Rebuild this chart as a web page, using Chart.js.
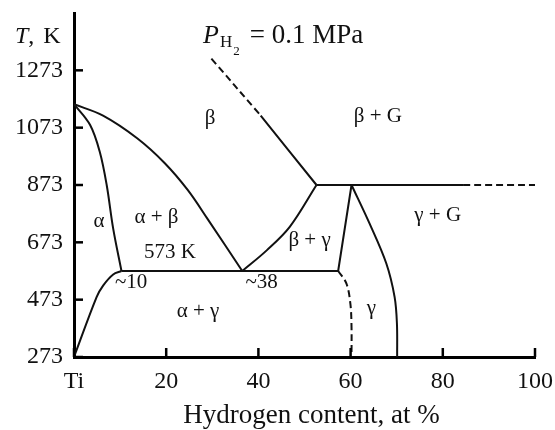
<!DOCTYPE html>
<html>
<head>
<meta charset="utf-8">
<script src="https://cdn.jsdelivr.net/npm/chart.js@4.4.1/dist/chart.umd.min.js"></script>
<style>
  body { margin: 0; background: #fff; }
</style>
</head>
<body>
<canvas id="grafico1" width="555" height="430"></canvas>
<script>
var serif = "'Liberation Serif', 'Times New Roman', serif";

// ejes
var xTicks = [0, 20, 40, 60, 80, 100];
var tTicks = [273, 473, 673, 873, 1073, 1273];
var xTitle = 'Hydrogen content, at %';

// curvas del diagrama (at % H, K)
var alphaX = [0, 3.5, 5.6, 7.1, 8.5, 10.3];
var alphaT = [1155, 1082, 988, 872, 721, 573];

var betaX = [0, 6.3, 13.7, 19.7, 24.7, 29.0, 36.5];
var betaT = [1155, 1115, 1036, 949, 855, 754, 573];

var betaGamX = [36.5, 41.8, 46.8, 52.6];
var betaGamT = [573, 645, 727, 873];

var betaGasX = [40.5, 52.6];
var betaGasT = [1115, 873];
var betaGasDashX = [29.8, 40.5];
var betaGasDashT = [1314, 1115];

var iso873X = [52.6, 84.4];
var iso873T = [873, 873];
var iso873DashX = [84.4, 100];
var iso873DashT = [873, 873];

var iso573X = [10.3, 57.3];
var iso573T = [573, 573];

var gamLeftX = [57.3, 60.2];
var gamLeftT = [573, 873];

var gamRightX = [60.2, 64.1, 67.75, 69.55, 70.05, 70.1];
var gamRightT = [873, 739, 599, 482, 390, 273];

var gamDashX = [57.3, 59.1, 59.95, 60.2, 60.2];
var gamDashT = [573, 529, 459, 378, 273];

var alphaGamX = [0, 4.9, 6.35, 8.5, 10.3];
var alphaGamT = [273, 482, 523, 561, 573];

// etiquetas de las fases
var labelText = ['\u03b2', '\u03b2 + G', '\u03b1', '\u03b1 + \u03b2', '573 K', '~10', '~38', '\u03b1 + \u03b3', '\u03b2 + \u03b3', '\u03b3 + G', '\u03b3'];
var labelX = [29.5, 65.9, 5.4, 17.9, 20.8, 12.4, 40.7, 26.9, 51.1, 78.9, 64.5];
var labelT = [1106, 1111, 744, 760, 636, 534, 534, 433, 680, 768, 442];

var linea = function(xs, ts, dash){
  return {
    data: xs.map(function(x, i){ return {x: x, y: ts[i]}; }),
    showLine: true,
    borderColor: '#111',
    borderWidth: 2,
    pointRadius: 0,
    tension: 0.35,
    borderDash: dash ? [7, 4] : [],
    fill: false
  };
};

var sinPadding = function(scale){
  scale.paddingTop = 0;
  scale.paddingBottom = 0;
  scale.paddingLeft = 0;
  scale.paddingRight = 0;
};

//--------------------------------------------------------------------------------------
// ticks hacia adentro, textos del diagrama
//--------------------------------------------------------------------------------------
var extras = {
  id: 'extras',
  afterDraw: function(chart){
    var ctx = chart.ctx;
    var sx = chart.scales.x, sy = chart.scales.y;
    ctx.save();
    ctx.strokeStyle = '#000';
    ctx.lineWidth = 2.5;
    sx.ticks.forEach(function(t){
      var px = sx.getPixelForValue(t.value);
      ctx.beginPath(); ctx.moveTo(px, sy.bottom); ctx.lineTo(px, sy.bottom - 9); ctx.stroke();
    });
    sy.ticks.forEach(function(t){
      var py = sy.getPixelForValue(t.value);
      ctx.beginPath(); ctx.moveTo(sx.left, py); ctx.lineTo(sx.left + 9, py); ctx.stroke();
    });

    ctx.fillStyle = '#111';
    ctx.font = '21px ' + serif;
    ctx.textAlign = 'center';
    ctx.textBaseline = 'middle';
    labelText.forEach(function(txt, i){
      ctx.fillText(txt, sx.getPixelForValue(labelX[i]), sy.getPixelForValue(labelT[i]));
    });

    // titulo del eje x
    ctx.font = '27px ' + serif;
    ctx.fillText(xTitle, (sx.left + sx.right) / 2 + 7, sx.bottom - 14);

    // T, K
    ctx.textAlign = 'left';
    ctx.textBaseline = 'alphabetic';
    var x0 = sx.left - 59, base = sy.top + 30;
    ctx.font = 'italic 24px ' + serif;
    ctx.fillText('T', x0, base);
    x0 += ctx.measureText('T').width;
    ctx.font = '24px ' + serif;
    ctx.fillText(',', x0, base);
    x0 += ctx.measureText(',').width + 9;
    ctx.fillText('K', x0, base);

    // P_H2 = 0.1 MPa
    var px0 = sx.getPixelForValue(28.0), pb = sy.getPixelForValue(1367);
    ctx.font = 'italic 26px ' + serif;
    ctx.fillText('P', px0, pb);
    px0 += ctx.measureText('P').width + 1;
    ctx.font = '17px ' + serif;
    ctx.fillText('H', px0, pb + 4);
    px0 += ctx.measureText('H').width + 1;
    ctx.font = '13px ' + serif;
    ctx.fillText('2', px0, pb + 12);
    px0 += ctx.measureText('2').width + 10;
    ctx.font = '27px ' + serif;
    ctx.fillText('= 0.1 MPa', px0, pb);
    ctx.restore();
  }
};

var ctx = document.getElementById('grafico1').getContext('2d');
var diagrama = new Chart(ctx, {
  type: 'scatter',
  data: {
    datasets: [
      linea(alphaX, alphaT),
      linea(betaX, betaT),
      linea(betaGamX, betaGamT),
      linea(betaGasX, betaGasT),
      linea(betaGasDashX, betaGasDashT, true),
      linea(iso873X, iso873T),
      linea(iso873DashX, iso873DashT, true),
      linea(iso573X, iso573T),
      linea(gamLeftX, gamLeftT),
      linea(gamRightX, gamRightT),
      linea(gamDashX, gamDashT, true),
      linea(alphaGamX, alphaGamT)
    ]
  },
  options: {
    responsive: false,
    animation: false,
    layout: { padding: { top: 13, right: 20, left: 0, bottom: 0 } },
    plugins: {
      legend: { display: false },
      tooltip: { enabled: false }
    },
    scales: {
      x: {
        type: 'linear',
        min: 0,
        max: 100,
        afterBuildTicks: function(scale){ scale.ticks = xTicks.map(function(v){ return {value: v}; }); },
        afterFit: function(scale){ scale.height = 73; sinPadding(scale); },
        grid: { display: true, drawOnChartArea: false, drawTicks: false },
        border: { display: true, color: '#000', width: 3 },
        ticks: {
          color: '#111',
          padding: 10,
          maxRotation: 0,
          font: { family: serif, size: 24 },
          callback: function(v){ return v === 0 ? 'Ti' : v; }
        }
      },
      y: {
        type: 'linear',
        min: 273,
        max: 1473,
        afterBuildTicks: function(scale){ scale.ticks = tTicks.map(function(v){ return {value: v}; }); },
        afterFit: function(scale){ scale.width = 74; sinPadding(scale); },
        grid: { display: true, drawOnChartArea: false, drawTicks: false },
        border: { display: true, color: '#000', width: 3 },
        ticks: {
          color: '#111',
          padding: 11,
          font: { family: serif, size: 24 },
          callback: function(v){ return v; }
        }
      }
    }
  },
  plugins: [extras]
});
</script>
</body>
</html>
